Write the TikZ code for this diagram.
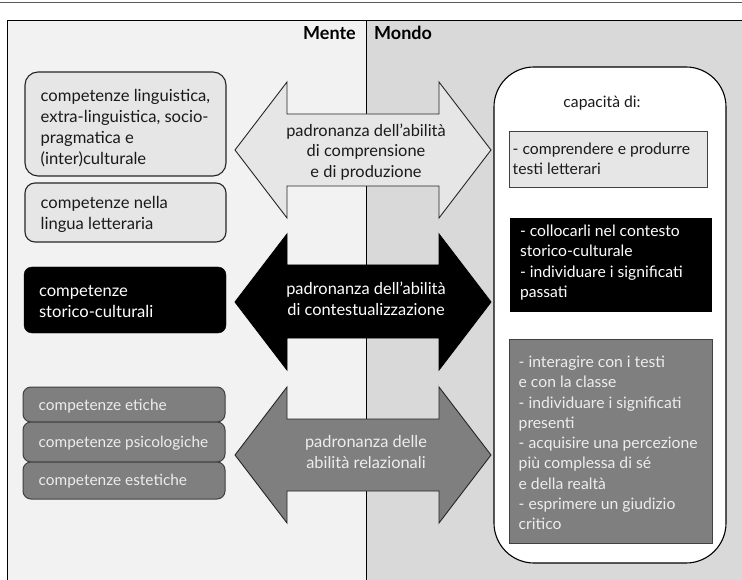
\documentclass[tikz,border=0pt]{standalone}
\usepackage{fontspec}
\setmainfont{Lato}
\usetikzlibrary{calc}
\definecolor{leftbg}{HTML}{F2F2F2}
\definecolor{rightbg}{HTML}{D9D9D9}
\definecolor{texfill}{HTML}{E6E6E6}
\definecolor{midgray}{HTML}{7F7F7F}
\definecolor{lighttxt}{HTML}{EDEDED}
\definecolor{darktxt}{HTML}{1A1A1A}
\definecolor{topline}{HTML}{5A5A5A}
\tikzset{
  txt/.style={inner sep=0pt, align=left, font=\fontsize{16.6}{21}\selectfont, text=darktxt},
  stxt/.style={inner sep=0pt, align=left, font=\fontsize{15.4}{20}\selectfont, text=lighttxt},
  rtxt/.style={inner sep=0pt, align=left, font=\fontsize{15.7}{20.3}\selectfont, text=darktxt},
  ctxt/.style={inner sep=0pt, align=center, font=\fontsize{16.4}{20.5}\selectfont},
  texbox/.style={draw=black!85, line width=1.1pt, fill=texfill, rounded corners=13pt, inner sep=0pt},
  blackbox/.style={draw=black, fill=black, rounded corners=8pt, inner sep=0pt},
  graybox/.style={draw=black!75, line width=1pt, fill=midgray, rounded corners=8pt, inner sep=0pt},
  arrowshape/.style={line width=0.9pt, line join=miter},
  header/.style={inner sep=0pt, font=\fontsize{18}{20}\selectfont\bfseries, text=black},
}
\begin{document}
\begin{tikzpicture}[x=1pt,y=-1pt]
\useasboundingbox (0,0) rectangle (742,580);
% backgrounds
\fill[leftbg] (7,20) rectangle (366,580);
\fill[rightbg] (366,20) rectangle (742,580);
\draw[line width=0.9pt] (7,580) -- (7,20) -- (742,20);
\draw[line width=0.9pt] (366,20) -- (366,580);
\draw[topline, line width=1.6pt] (0,2.5) -- (742,2.5);
% headers
\node[header, anchor=east] (mente) at (356,33) {Mente};
\node[header, anchor=west] (mondo) at (374,33) {Mondo};

% arrows
\draw[arrowshape, draw=black!85, fill=texfill] (235,150) -- (287,82) -- (287,114) -- (439,114) -- (439,82) -- (491,150) -- (439,218) -- (439,186) -- (287,186) -- (287,218) -- cycle;
\node[ctxt, text=darktxt] (a1) at (366,152) {padronanza dell’abilità\\di comprensione\\e di produzione};

\draw[arrowshape, draw=black, fill=black] (235,302) -- (287,234) -- (287,265) -- (439,265) -- (439,234) -- (491,302) -- (439,370) -- (439,338) -- (287,338) -- (287,370) -- cycle;
\node[ctxt, text=white] (a2) at (366,299) {padronanza dell’abilità\\di contestualizzazione};

\draw[arrowshape, draw=black!85, fill=midgray] (235,455) -- (287,387) -- (287,419) -- (439,419) -- (439,387) -- (491,455) -- (439,523) -- (439,491) -- (287,491) -- (287,523) -- cycle;
\node[ctxt, text=lighttxt] (a3) at (366,452) {padronanza delle\\abilità relazionali};

% left boxes
\node[texbox, minimum width=201pt, minimum height=104pt] (b1) at (125.5,124) {};
\node[txt, anchor=west] (t1) at ([xshift=16pt, yshift=-4pt]b1.west) {competenze linguistica,\\extra-linguistica, socio-\\pragmatica e\\(inter)culturale};
\node[texbox, rounded corners=10pt, minimum width=201pt, minimum height=59pt] (b2) at (125.5,212.5) {};
\node[txt, anchor=west] (t2) at ([xshift=16pt, yshift=-2pt]b2.west) {competenze nella\\lingua letteraria};

\node[blackbox, minimum width=202pt, minimum height=66pt] (b3) at (125,300) {};
\node[txt, text=white, anchor=west] (t3) at ([xshift=15pt, yshift=-1pt]b3.west) {competenze\\storico-culturali};

\node[graybox, minimum width=202pt, minimum height=35pt] (g1) at (124,404.5) {};
\node[graybox, minimum width=202pt, minimum height=40pt] (g2) at (124,442) {};
\node[graybox, minimum width=202pt, minimum height=37pt] (g3) at (124,480.5) {};
\node[stxt, anchor=west] (gt1) at ([xshift=16pt, yshift=-2pt]g1.west) {competenze etiche};
\node[stxt, anchor=west] (gt2) at ([xshift=16pt, yshift=-1pt]g2.west) {competenze psicologiche};
\node[stxt, anchor=west] (gt3) at ([xshift=16pt, yshift=-1pt]g3.west) {competenze estetiche};

% right big box
\node[draw=black, line width=1.1pt, fill=white, rounded corners=40pt, minimum width=232pt, minimum height=496pt, inner sep=0pt] (rb) at (610,315) {};
\node[rtxt] (cap) at (602,103) {capacità di:};

\node[draw=black!75, line width=1pt, fill=texfill, minimum width=198pt, minimum height=56pt, inner sep=0pt] (r1) at (608,160) {};
\node[rtxt, anchor=west] (rt1) at ([xshift=4pt, yshift=1pt]r1.west) {- comprendere e produrre\\testi letterari};

\node[draw=black, fill=black, minimum width=201pt, minimum height=93pt, inner sep=0pt] (r2) at (610.5,264.5) {};
\node[rtxt, text=white, anchor=west] (rt2) at ([xshift=10pt, yshift=2pt]r2.west) {- collocarli nel contesto\\storico-culturale\\- individuare i significati\\passati};

\node[draw=black!75, line width=1pt, fill=midgray, minimum width=203pt, minimum height=204pt, inner sep=0pt] (r3) at (610.5,441) {};
\node[rtxt, text=lighttxt, anchor=west] (rt3) at ([xshift=10pt, yshift=-2pt]r3.west) {- interagire con i testi\\e con la classe\\- individuare i significati\\presenti\\- acquisire una percezione\\più complessa di sé\\e della realtà\\- esprimere un giudizio\\critico};
\end{tikzpicture}
\end{document}
